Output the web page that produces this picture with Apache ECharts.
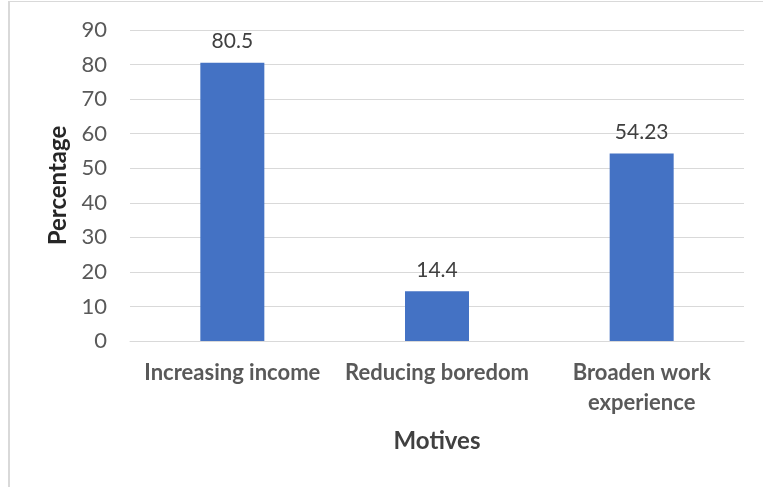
<!DOCTYPE html>
<html>
<head>
<meta charset="utf-8">
<script src="https://cdn.jsdelivr.net/npm/echarts@6/dist/echarts.min.js"></script>
<style>
  html, body { margin: 0; padding: 0; background: #fff; }
  #frame { position: absolute; left: 8px; top: 1px; width: 755px; height: 486px;
           border-left: 2px solid #d9d9d9; border-top: 1px solid #d9d9d9; }
  #chart { position: absolute; left: 0; top: 0; width: 763px; height: 487px; }
</style>
</head>
<body>
<div id="frame"></div>
<div id="chart"></div>
<script type="text/javascript">
  var categories = ['Increasing income', 'Reducing boredom', 'Broaden work\nexperience'];
  var values = [80.5, 14.4, 54.23];
  var yTicks = { min: 0, max: 90, step: 10 };

  var chart = echarts.init(document.getElementById('chart'));
  var font = 'Lato, "Open Sans", sans-serif';
  chart.setOption({
    animation: false,
    grid: { left: 130, right: 19, top: 30, bottom: 146 },
    xAxis: {
      type: 'category',
      data: categories,
      name: 'Motives',
      nameLocation: 'middle',
      nameGap: 88,
      nameTextStyle: { fontFamily: font, fontSize: 24, fontWeight: 'bold', color: '#404040' },
      axisLine: { lineStyle: { color: '#d9d9d9', width: 1 } },
      axisTick: { show: false },
      axisLabel: {
        interval: 0, margin: 17, fontFamily: font, fontSize: 22, fontWeight: 'bold',
        color: '#595959', lineHeight: 30
      }
    },
    yAxis: {
      type: 'value',
      min: yTicks.min, max: yTicks.max, interval: yTicks.step,
      name: 'Percentage',
      nameLocation: 'middle',
      nameGap: 52,
      nameTextStyle: { fontFamily: font, fontSize: 24, fontWeight: 'bold', color: '#262626' },
      axisLine: { show: false },
      axisTick: { show: false },
      splitLine: { lineStyle: { color: '#d9d9d9', width: 1 } },
      axisLabel: { margin: 23, fontFamily: font, fontSize: 22, color: '#595959' }
    },
    series: [{
      type: 'bar',
      data: values,
      barWidth: 64,
      itemStyle: { color: '#4472C4' },
      label: {
        show: true, position: 'top', distance: 11,
        fontFamily: font, fontSize: 21, color: '#404040'
      }
    }]
  });
</script>
</body>
</html>
